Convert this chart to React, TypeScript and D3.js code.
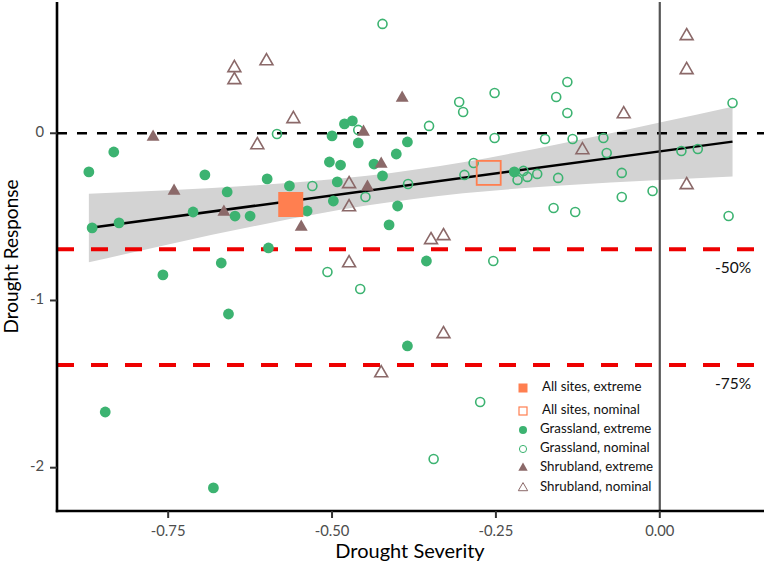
import React from "react";
import * as d3 from "d3";

// ---------- data ----------
const xDomain: [number, number] = [-0.9196, 0.159];
const yDomain: [number, number] = [-2.259, 0.785];
const xTicks = [-0.75, -0.5, -0.25, 0];
const xTickLabels = ["-0.75", "-0.50", "-0.25", "0.00"];
const yTicks = [0, -1, -2];
const yTickLabels = ["0", "-1", "-2"];

const grasslandExtreme: [number, number][] = [
  [-0.871, -0.231], [-0.833, -0.112], [-0.694, -0.249], [-0.66, -0.351], [-0.866, -0.566],
  [-0.825, -0.536], [-0.712, -0.471], [-0.648, -0.495], [-0.625, -0.495], [-0.758, -0.847],
  [-0.669, -0.776], [-0.658, -1.081], [-0.846, -1.667], [-0.681, -2.121], [-0.599, -0.273],
  [-0.565, -0.315], [-0.538, -0.465], [-0.5, -0.016], [-0.481, 0.056], [-0.469, 0.074],
  [-0.46, -0.058], [-0.504, -0.172], [-0.487, -0.19], [-0.436, -0.184], [-0.423, -0.255],
  [-0.402, -0.124], [-0.385, -0.052], [-0.492, -0.291], [-0.498, -0.405], [-0.4, -0.435],
  [-0.413, -0.548], [-0.597, -0.686], [-0.356, -0.764], [-0.385, -1.272], [-0.222, -0.231],
];

const grasslandNominal: [number, number][] = [
  [-0.423, 0.654], [-0.584, -0.004], [-0.46, 0.02], [-0.352, 0.044], [-0.306, 0.187],
  [-0.3, 0.127], [-0.252, 0.241], [-0.252, -0.028], [-0.284, -0.178], [-0.298, -0.249],
  [-0.384, -0.303], [-0.53, -0.315], [-0.449, -0.381], [-0.158, 0.217], [-0.141, 0.307],
  [-0.141, 0.121], [-0.175, -0.034], [-0.133, -0.034], [-0.086, -0.028], [-0.081, -0.118],
  [-0.058, -0.237], [-0.058, -0.381], [-0.208, -0.225], [-0.217, -0.279], [-0.202, -0.261],
  [-0.187, -0.243], [-0.155, -0.267], [-0.162, -0.447], [-0.129, -0.471], [-0.011, -0.345],
  [0.033, -0.106], [0.058, -0.094], [0.111, 0.181], [0.105, -0.495], [-0.507, -0.83],
  [-0.457, -0.931], [-0.254, -0.764], [-0.274, -1.607], [-0.345, -1.948],
];

const shrublandExtreme: [number, number][] = [
  [-0.773, -0.022], [-0.741, -0.345], [-0.665, -0.471], [-0.393, 0.211],
  [-0.452, 0.008], [-0.425, -0.184], [-0.446, -0.321], [-0.547, -0.56],
];

const shrublandNominal: [number, number][] = [
  [-0.649, 0.391], [-0.649, 0.319], [-0.6, 0.432], [-0.559, 0.086], [-0.614, -0.07],
  [-0.474, -0.303], [-0.474, -0.441], [0.041, 0.582], [0.041, 0.379], [-0.055, 0.115],
  [-0.118, -0.1], [0.041, -0.309], [-0.349, -0.638], [-0.33, -0.614], [-0.474, -0.776],
  [-0.33, -1.2], [-0.425, -1.434],
];

const allSitesExtreme: [number, number] = [-0.563, -0.426];
const allSitesNominal: [number, number] = [-0.261, -0.237];

const fitX = [-0.871, 0.111];
const fitY = [-0.567, -0.05];

const bandX = [-0.871, -0.75, -0.6, -0.45, -0.3, -0.15, 0, 0.111];
const bandLower = [-0.772, -0.665, -0.541, -0.434, -0.359, -0.313, -0.28, -0.259];
const bandUpper = [-0.362, -0.341, -0.307, -0.256, -0.173, -0.061, 0.064, 0.159];

const refValues = [-0.693, -1.386];
const refLabels = ["-50%", "-75%"];

const legendLabels = [
  "All sites, extreme",
  "All sites, nominal",
  "Grassland, extreme",
  "Grassland, nominal",
  "Shrubland, extreme",
  "Shrubland, nominal",
];

// ---------- style ----------
const W = 766;
const H = 569;
const L = 57, R = 764, T = 2, B = 511;
const GREEN = "#3cb371";
const BROWN = "#8b6969";
const CORAL = "#ff7f50";
const RED = "#ee0000";
const FONT = "Lato, 'Open Sans', sans-serif";

export default function App() {
  const x = d3.scaleLinear().domain(xDomain).range([L, R]);
  const y = d3.scaleLinear().domain(yDomain).range([B, T]);

  const band = bandX.map((bx, i) => ({ x: bx, lo: bandLower[i], hi: bandUpper[i] }));
  const areaGen = d3
    .area<{ x: number; lo: number; hi: number }>()
    .x((d) => x(d.x))
    .y0((d) => y(d.lo))
    .y1((d) => y(d.hi))
    .curve(d3.curveMonotoneX);

  const tri = d3.symbol().type(d3.symbolTriangle).size(72)();
  const triLegend = d3.symbol().type(d3.symbolTriangle).size(38)();

  const legendX = 523;
  const legendTextX = [542, 542, 540, 540, 540, 540];
  const legendY = [388, 411, 430, 449, 468, 488];

  const sqE = 25;
  const sqN = 24;

  return (
    <svg
      width={W}
      height={H}
      style={{ position: "absolute", left: 0, top: 0, background: "#fff" }}
      fontFamily={FONT}
    >
      <rect x={0} y={0} width={W} height={H} fill="#fff" />
      {/* confidence band */}
      <path d={areaGen(band) || ""} fill="#d3d3d3" />
      {/* fit line */}
      <line
        x1={x(fitX[0])}
        y1={y(fitY[0])}
        x2={x(fitX[1])}
        y2={y(fitY[1])}
        stroke="#000"
        strokeWidth={2.5}
      />
      {/* zero line */}
      <line x1={L} x2={R} y1={y(0)} y2={y(0)} stroke="#000" strokeWidth={2.5} strokeDasharray="10 10" />
      {/* reference lines */}
      {refValues.map((v, i) => (
        <line key={"ref" + i} x1={L} x2={R} y1={y(v)} y2={y(v)} stroke={RED} strokeWidth={4} strokeDasharray="17 17" />
      ))}
      {/* vertical line at 0 */}
      <line x1={x(0)} x2={x(0)} y1={T} y2={B} stroke="#555" strokeWidth={2.2} />

      {/* points */}
      {grasslandExtreme.map((d, i) => (
        <circle key={"ge" + i} cx={x(d[0])} cy={y(d[1])} r={5.4} fill={GREEN} />
      ))}
      {grasslandNominal.map((d, i) => (
        <circle key={"gn" + i} cx={x(d[0])} cy={y(d[1])} r={4.5} fill="none" stroke={GREEN} strokeWidth={1.6} />
      ))}
      {shrublandExtreme.map((d, i) => (
        <path key={"se" + i} d={tri || ""} transform={`translate(${x(d[0])},${y(d[1])})`} fill={BROWN} />
      ))}
      {shrublandNominal.map((d, i) => (
        <path
          key={"sn" + i}
          d={tri || ""}
          transform={`translate(${x(d[0])},${y(d[1])})`}
          fill="none"
          stroke={BROWN}
          strokeWidth={1.6}
        />
      ))}
      <rect
        x={x(allSitesExtreme[0]) - sqE / 2}
        y={y(allSitesExtreme[1]) - sqE / 2}
        width={sqE}
        height={sqE}
        fill={CORAL}
      />
      <rect
        x={x(allSitesNominal[0]) - sqN / 2}
        y={y(allSitesNominal[1]) - sqN / 2}
        width={sqN}
        height={sqN}
        fill="none"
        stroke={CORAL}
        strokeWidth={1.8}
      />

      {/* reference labels */}
      {refValues.map((v, i) => (
        <text key={"rl" + i} x={733} y={y(v) + 20} textAnchor="middle" dominantBaseline="middle" fontSize={15.5} fill="#111">
          {refLabels[i]}
        </text>
      ))}

      {/* axes */}
      <line x1={L} x2={L} y1={T} y2={B + 1.2} stroke="#000" strokeWidth={2.6} />
      <line x1={L - 1.2} x2={R} y1={B} y2={B} stroke="#000" strokeWidth={2.6} />
      {xTicks.map((t, i) => (
        <g key={"xt" + i}>
          <line x1={x(t)} x2={x(t)} y1={B} y2={B + 7} stroke="#333" strokeWidth={2} />
          <text x={x(t)} y={B + 21} textAnchor="middle" dominantBaseline="middle" fontSize={14.8} fill="#4d4d4d">
            {xTickLabels[i]}
          </text>
        </g>
      ))}
      {yTicks.map((t, i) => (
        <g key={"yt" + i}>
          <line x1={L - 7} x2={L} y1={y(t)} y2={y(t)} stroke="#333" strokeWidth={2} />
          <text x={L - 13} y={y(t)} textAnchor="end" dominantBaseline="middle" fontSize={14.8} fill="#4d4d4d">
            {yTickLabels[i]}
          </text>
        </g>
      ))}
      <text x={410} y={553} textAnchor="middle" dominantBaseline="middle" fontSize={20} fill="#000">
        Drought Severity
      </text>
      <text
        transform={`translate(13,${(T + B) / 2}) rotate(-90)`}
        textAnchor="middle"
        dominantBaseline="middle"
        fontSize={19}
        fill="#000"
      >
        Drought Response
      </text>

      {/* legend */}
      <rect x={legendX - 4.5} y={legendY[0] - 4.5} width={9} height={9} fill={CORAL} />
      <rect x={legendX - 4} y={legendY[1] - 4} width={8} height={8} fill="none" stroke={CORAL} strokeWidth={1.2} />
      <circle cx={legendX} cy={legendY[2]} r={4} fill={GREEN} />
      <circle cx={legendX} cy={legendY[3]} r={3.6} fill="none" stroke={GREEN} strokeWidth={1} />
      <path d={triLegend || ""} transform={`translate(${legendX},${legendY[4]})`} fill={BROWN} />
      <path d={triLegend || ""} transform={`translate(${legendX},${legendY[5]})`} fill="none" stroke={BROWN} strokeWidth={1} />
      {legendLabels.map((lab, i) => (
        <text key={"lg" + i} x={legendTextX[i]} y={legendY[i]} dominantBaseline="middle" fontSize={13.3} fill="#111">
          {lab}
        </text>
      ))}
    </svg>
  );
}
